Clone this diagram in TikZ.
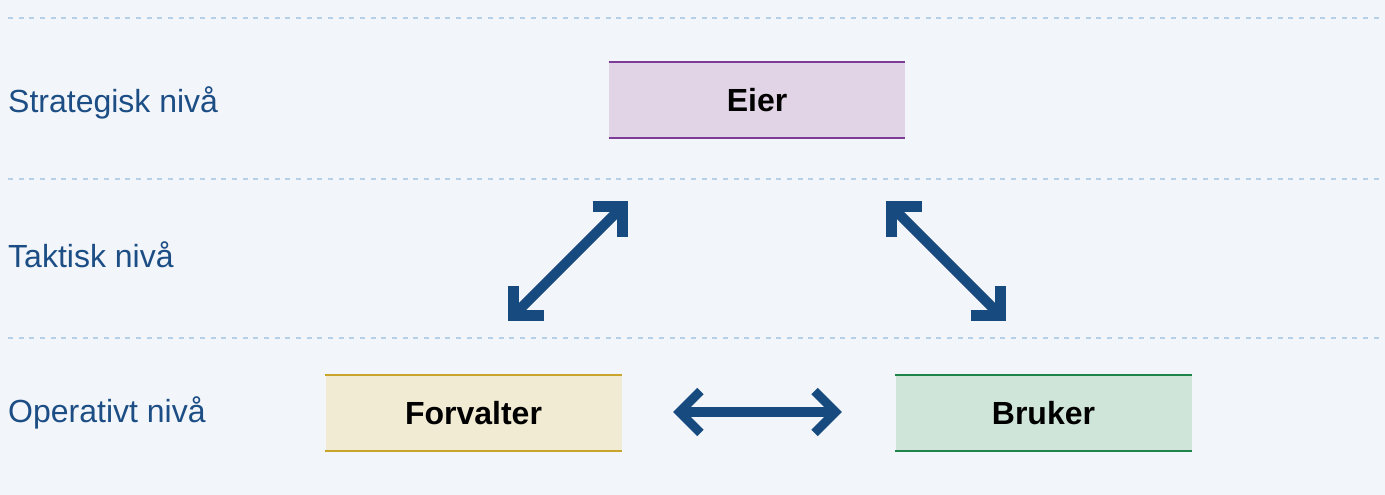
\documentclass[tikz,border=0pt]{standalone}
\usepackage{fontspec}
\setmainfont{Liberation Sans}
\usetikzlibrary{calc}

\definecolor{pagebg}{HTML}{F2F5F9}
\definecolor{rulecol}{HTML}{B7D0EA}
\definecolor{levelcol}{HTML}{1C4E85}
\definecolor{arrowcol}{HTML}{174A7E}
\definecolor{eierfill}{HTML}{E2D4E7}
\definecolor{eierline}{HTML}{7D3C98}
\definecolor{forvfill}{HTML}{F2EBD3}
\definecolor{forvline}{HTML}{C9A42B}
\definecolor{brukfill}{HTML}{D0E5D9}
\definecolor{brukline}{HTML}{1E8449}

\tikzset{
  levelrule/.style={draw=rulecol, line width=1.6pt, dash pattern=on 5pt off 5.67pt},
  levellabel/.style={anchor=base west, inner sep=0pt, text=levelcol,
    font=\fontsize{32}{38}\selectfont},
  rolebox/.style={rectangle, inner sep=0pt, minimum width=296pt, minimum height=76pt,
    font=\bfseries\fontsize{32}{38}\selectfont, text=black},
  edgeline/.style={line width=2pt},
  shaft/.style={draw=arrowcol, line width=10pt, line cap=butt},
  chevron/.style={draw=arrowcol, line width=#1, line cap=butt, line join=miter},
  chevron/.default=11pt,
}

\begin{document}
\begin{tikzpicture}[x=1pt,y=-1pt]
  % page background and extent
  \fill[pagebg] (0,0) rectangle (1385,495);
  \useasboundingbox (0,0) rectangle (1385,495);

  % level separators
  \coordinate (r1a) at (8,18);   \coordinate (r1b) at (1380,18);
  \coordinate (r2a) at (8,179);  \coordinate (r2b) at (1380,179);
  \coordinate (r3a) at (8,338);  \coordinate (r3b) at (1380,338);
  \draw[levelrule] (r1a) -- (r1b);
  \draw[levelrule] (r2a) -- (r2b);
  \draw[levelrule] (r3a) -- (r3b);

  % level names
  \node[levellabel] (strat) at (8,112.5) {Strategisk nivå};
  \node[levellabel] (takt)  at (8,267.5) {Taktisk nivå};
  \node[levellabel] (oper)  at (8,422.5) {Operativt nivå};

  % roles
  \node[rolebox, fill=eierfill] (eier) at (757,99.8) {Eier};
  \node[rolebox, fill=forvfill] (forv) at (473.5,413) {Forvalter};
  \node[rolebox, fill=brukfill] (bruk) at (1043.5,413) {Bruker};

  \draw[edgeline, eierline] (eier.north west) -- (eier.north east);
  \draw[edgeline, eierline] (eier.south west) -- (eier.south east);
  \draw[edgeline, forvline] (forv.north west) -- (forv.north east);
  \draw[edgeline, forvline] (forv.south west) -- (forv.south east);
  \draw[edgeline, brukline] (bruk.north west) -- (bruk.north east);
  \draw[edgeline, brukline] (bruk.south west) -- (bruk.south east);

  % relation Forvalter <-> Eier
  \coordinate (fe) at (513.5,315.5);  \coordinate (ef) at (622.5,206.5);
  \draw[shaft] (fe) -- (ef);
  \draw[chevron] ($(fe)+(30,0)$) -- (fe) -- ($(fe)+(0,-30)$);
  \draw[chevron] ($(ef)+(-30,0)$) -- (ef) -- ($(ef)+(0,30)$);

  % relation Eier <-> Bruker
  \coordinate (eb) at (891.5,206.5);  \coordinate (be) at (1000.5,315.5);
  \draw[shaft] (eb) -- (be);
  \draw[chevron] ($(eb)+(30,0)$) -- (eb) -- ($(eb)+(0,30)$);
  \draw[chevron] ($(be)+(-30,0)$) -- (be) -- ($(be)+(0,-30)$);

  % relation Forvalter <-> Bruker
  \coordinate (fb) at (679.4,412);  \coordinate (bf) at (835.6,412);
  \draw[shaft] (fb) -- (bf);
  \draw[chevron=9pt] ($(fb)+(21,-21)$) -- (fb) -- ($(fb)+(21,21)$);
  \draw[chevron=9pt] ($(bf)+(-21,-21)$) -- (bf) -- ($(bf)+(-21,21)$);
\end{tikzpicture}
\end{document}
